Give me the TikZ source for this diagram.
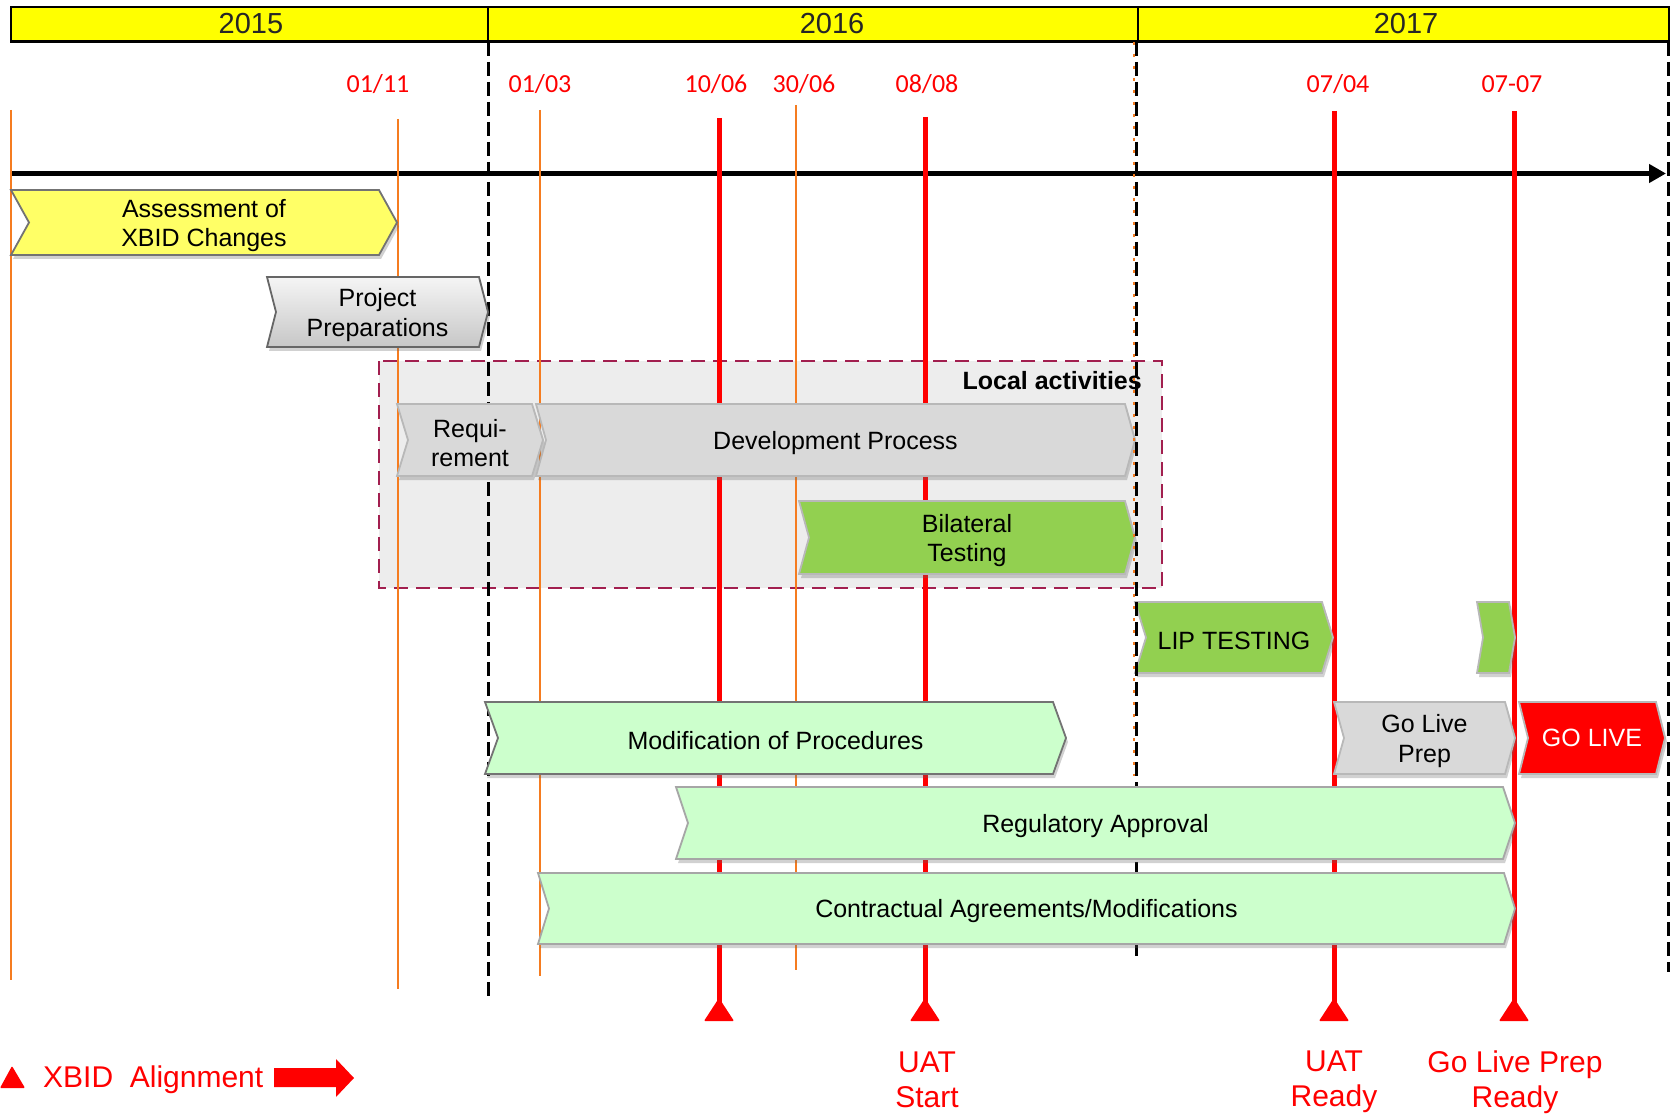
\documentclass[tikz,border=0pt]{standalone}
\usepackage{fontspec}
\setmainfont{Liberation Sans}
\newfontfamily\datefont{Carlito}
\usetikzlibrary{arrows.meta,shadows}
\definecolor{yearyellow}{HTML}{FFFF00}
\definecolor{chyellow}{HTML}{FFFF66}
\definecolor{chgray}{HTML}{D9D9D9}
\definecolor{chgreen}{HTML}{92D050}
\definecolor{chlight}{HTML}{CCFFCC}
\definecolor{locfill}{HTML}{EDEDED}
\definecolor{maroon}{HTML}{A21F4F}
\definecolor{orangeln}{HTML}{F57C20}
\newcommand\chev[8]{%
  \path[#7] (#2,#3) -- ({#4-#6},#3) -- (#4,{(#3+#5)/2}) -- ({#4-#6},#5) -- (#2,#5) -- ({#2+#6},{(#3+#5)/2}) -- cycle;
  \node[chtext] (#1) at ({(#2+#4)/2},{(#3+#5)/2}) {#8};}
\tikzset{
  shad/.style={drop shadow={shadow xshift=2pt,shadow yshift=-4pt,opacity=0.3,fill=black!60}},
  chtext/.style={align=center,font=\fontsize{25}{29.5}\selectfont,inner sep=0pt,yshift=-3pt},
  yelch/.style={fill=chyellow,draw=black!55,line width=1.8pt,shad},
  prepch/.style={top color=black!4,bottom color=black!22,draw=black!60,line width=1.8pt,shad},
  graych/.style={fill=chgray,draw=black!28,line width=1.8pt,shad},
  greench/.style={fill=chgreen,draw=black!28,line width=1.8pt,shad},
  lightch/.style={fill=chlight,draw=black!35,line width=1.8pt,shad},
  modch/.style={fill=chlight,draw=black!55,line width=1.8pt,shad},
  redch/.style={fill=red,draw=black!28,line width=1.8pt,shad},
  datelbl/.style={text=red,font=\datefont\fontsize{26}{30}\selectfont,anchor=base,inner sep=0pt},
  yearlbl/.style={text=black!85,font=\fontsize{29}{33}\selectfont,anchor=base,inner sep=0pt},
  orangeline/.style={draw=orangeln,line width=2pt},
  redline/.style={draw=red,line width=5pt},
  blackdash/.style={draw=black,line width=3pt,dash pattern=on 14pt off 6pt},
  milelbl/.style={text=red,align=center,font=\fontsize{30}{35.5}\selectfont,inner sep=0pt},
}
\begin{document}
\begin{tikzpicture}[x=1pt,y=-1pt]
\useasboundingbox (0,0) rectangle (1671,1115);
% year bar
\draw[fill=yearyellow,line width=2.5pt] (11,7) rectangle (1669,41.5);
\draw[line width=2.5pt] (488,7) -- (488,41.5);
\draw[line width=2.5pt] (1138,7) -- (1138,41.5);
\node[yearlbl] (y15) at (251,34) {2015};
\node[yearlbl] (y16) at (832,34) {2016};
\node[yearlbl] (y17) at (1406,34) {2017};
% local activities box
\draw[fill=locfill,draw=maroon,line width=2.5pt,dash pattern=on 14pt off 8pt] (379,361) rectangle (1162,588);
\node[anchor=base east,font=\bfseries\fontsize{25}{30}\selectfont,inner sep=0pt] (loc) at (1142,389) {Local activities};
% timeline
\coordinate (tl0) at (11,173.5);
\coordinate (tl1) at (1666,173.5);
\draw[line width=5.5pt,-{Triangle[length=17pt,width=18pt]}] (tl0) -- (tl1);
% date labels
\node[datelbl] (d1) at (378,93) {01/11};
\node[datelbl] (d2) at (540,93) {01/03};
\node[datelbl] (d3) at (716,93) {10/06};
\node[datelbl] (d4) at (804,93) {30/06};
\node[datelbl] (d5) at (927,93) {08/08};
\node[datelbl] (d6) at (1338,93) {07/04};
\node[datelbl] (d7) at (1512,93) {07-07};
% dashed year lines
\draw[blackdash] (488,42) -- (488,1002);
\draw[blackdash] (1668,42) -- (1668,972);
% orange lines
\draw[orangeline] (11,110) -- (11,980);
\draw[orangeline] (397.5,119) -- (397.5,989);
\draw[orangeline] (540,110) -- (540,976);
\draw[orangeline] (796,105) -- (796,970);
% red lines + triangles
\foreach \xx/\yy in {719/118, 925/117, 1334/111, 1514/111}{
  \draw[redline] (\xx,\yy) -- (\xx,1012);
  \fill[red,rounded corners=1pt] ({\xx-15},1021) -- (\xx,998) -- ({\xx+15},1021) -- cycle;
}
% chevrons
\chev{assess}{11}{190}{397}{255}{18}{yelch}{Assessment of\\XBID Changes}
\chev{prep}{267}{277}{488}{347}{9}{prepch}{Project\\Preparations}
\chev{req}{397}{404}{543}{476}{11}{graych,chtext/.append style={yshift=2pt}}{Requi-\\rement}
\chev{dev}{536}{404}{1135}{476}{10}{graych}{Development Process}
\chev{bil}{799}{501}{1135}{574}{10}{greench}{Bilateral\\Testing}
\chev{lip}{1135}{602}{1333}{673}{11}{greench}{LIP TESTING}
\path[greench] (1477,602) -- (1509,602) -- (1515,637.5) -- (1509,673) -- (1477,673) -- (1483,637.5) -- cycle;
\node[inner sep=0pt] (small) at (1496,637.5) {};
% second year dashed line (over local chevrons)
\draw[orangeln,line width=1.5pt,dash pattern=on 3pt off 9pt] (1134,42) -- (1134,776);
\draw[blackdash] (1136,42) -- (1136,961);
\chev{mod}{485}{702}{1066}{774}{13}{modch}{Modification of Procedures}
\chev{glp}{1334}{702}{1515}{774}{10}{graych}{Go Live\\Prep}
\path[redch] (1519,702) -- (1656,702) -- (1665,738) -- (1656,774) -- (1519,774) -- (1528,738) -- cycle;
\node[chtext,text=white,yshift=3pt] (golive) at (1592,738) {GO LIVE};
\chev{reg}{676}{787}{1515}{859}{12}{lightch}{Regulatory Approval}
\chev{con}{538}{873}{1515}{944}{11}{lightch}{Contractual Agreements/Modifications}
% milestone labels
\node[milelbl] (uats) at (927,1080) {UAT\\Start};
\node[milelbl] (uatr) at (1334,1082) {UAT\\Ready};
\node[milelbl] (glpr) at (1515,1082) {Go Live Prep\\Ready};
% legend
\fill[red,rounded corners=1pt] (0,1088) -- (12,1066) -- (25,1088) -- cycle;
\node[anchor=base west,text=red,font=\fontsize{30}{35}\selectfont,inner sep=0pt] (leg) at (43,1087) {XBID\ \ Alignment};
\fill[red] (274,1068) -- (336,1068) -- (336,1059) -- (354,1078) -- (336,1097) -- (336,1087) -- (274,1087) -- cycle;
\end{tikzpicture}
\end{document}
